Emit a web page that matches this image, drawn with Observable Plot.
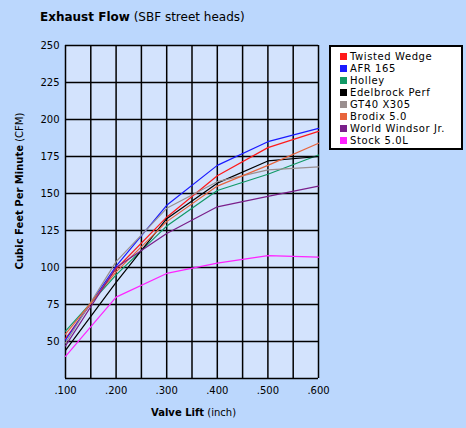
<!DOCTYPE html>
<html>
<head>
<meta charset="utf-8">
<script src="https://cdn.jsdelivr.net/npm/d3@7"></script>
<script src="https://cdn.jsdelivr.net/npm/@observablehq/plot@0.6"></script>
<style>
  html, body { margin: 0; padding: 0; background: #bbd7fd; }
  #wrap { position: relative; width: 466px; height: 428px; background: #bbd7fd; font-family: "DejaVu Sans", Verdana, sans-serif; }
  #legend { position: absolute; z-index: 2; left: 329px; top: 45px; width: 130px; height: 101px; background: #fff; border: 2px solid #000; }
  .item { position: absolute; left: 9px; height: 12px; font-size: 10px; line-height: 12px; white-space: nowrap; color: #000; letter-spacing: 0.6px; }
  .sw { display: inline-block; width: 7px; height: 7px; margin-right: 3px; vertical-align: 0px; }
</style>
</head>
<body>
<div id="wrap"><div id="legend"></div></div>
<script>
const lifts = [0.1, 0.2, 0.3, 0.4, 0.5, 0.6];
const seriesNames = ["Twisted Wedge", "AFR 165", "Holley", "Edelbrock Perf", "GT40 X305", "Brodix 5.0", "World Windsor Jr.", "Stock 5.0L"];
const seriesColors = ["#ff1a1a", "#1a1aff", "#119966", "#000000", "#9a8f8f", "#e8643c", "#7a1f8a", "#ff22ff"];
const twistedWedge = [52, 99, 134, 162, 181, 192];
const afr165 = [51, 101, 142, 169, 185, 194];
const holley = [57, 95, 128, 152, 163, 176];
const edelbrock = [44, 90, 133, 157, 172, 175];
const gt40 = [49, 104, 140, 158, 166, 168];
const brodix = [55, 97, 131, 155, 169, 184];
const worldWindsor = [47, 100, 123, 141, 148, 155];
const stock = [40, 80, 96, 103, 108, 107];
const xGrid = [0.1, 0.15, 0.2, 0.25, 0.3, 0.35, 0.4, 0.45, 0.5, 0.55, 0.6];
const xTicks = [0.1, 0.2, 0.3, 0.4, 0.5, 0.6];
const yGrid = [25, 50, 75, 100, 125, 150, 175, 200, 225, 250];
const yTicks = [50, 75, 100, 125, 150, 175, 200, 225, 250];

const allSeries = [twistedWedge, afr165, holley, edelbrock, gt40, brodix, worldWindsor, stock];
const data = [];
seriesNames.forEach((name, i) => allSeries[i].forEach((v, j) => data.push({series: name, lift: lifts[j], cfm: v})));

const chart = Plot.plot({
  width: 466,
  height: 428,
  marginLeft: 65,
  marginRight: 148,
  marginTop: 45,
  marginBottom: 50,
  style: {background: "#bbd7fd", fontFamily: "DejaVu Sans, Verdana, sans-serif", fontSize: "10px", color: "#000"},
  x: {domain: [0.1, 0.6]},
  y: {domain: [25, 250]},
  color: {domain: seriesNames, range: seriesColors},
  marks: [
    Plot.frame({fill: "#d3e3fd", stroke: "none"}),
    Plot.ruleX(xGrid, {stroke: "#000", strokeWidth: 1.5}),
    Plot.ruleY(yGrid, {stroke: "#000", strokeWidth: 1.5}),
    Plot.line(data, {x: "lift", y: "cfm", z: "series", stroke: "series", strokeWidth: 1.2}),
    Plot.axisX({ticks: xTicks, tickSize: 0, tickPadding: 8, label: null, tickFormat: d => d3.format(".3f")(d).replace(/^0/, "")}),
    Plot.axisY({ticks: yTicks, tickSize: 0, tickPadding: 6, label: null})
  ]
});
chart.style.position = "absolute";
chart.style.left = "0px";
chart.style.top = "0px";
chart.style.zIndex = "1";
document.getElementById("wrap").appendChild(chart);

const svg = d3.select(chart);
const t = svg.append("text").attr("x", 40).attr("y", 21).attr("text-anchor", "start").attr("font-size", 12).attr("fill", "#000");
t.append("tspan").attr("font-weight", "bold").text("Exhaust Flow");
t.append("tspan").text(" (SBF street heads)");

const yl = svg.append("text").attr("transform", "translate(23,191) rotate(-90)").attr("text-anchor", "middle").attr("font-size", 10).attr("fill", "#000");
yl.append("tspan").attr("font-weight", "bold").text("Cubic Feet Per Minute");
yl.append("tspan").text(" (CFM)");

const xl = svg.append("text").attr("x", 151).attr("y", 416).attr("text-anchor", "start").attr("font-size", 10).attr("fill", "#000");
xl.append("tspan").attr("font-weight", "bold").text("Valve Lift");
xl.append("tspan").text(" (inch)");

const legend = document.getElementById("legend");
seriesNames.forEach((name, i) => {
  const it = document.createElement("div");
  it.className = "item";
  it.style.top = (4 + i * 12) + "px";
  const sw = document.createElement("span");
  sw.className = "sw";
  sw.style.background = seriesColors[i];
  it.appendChild(sw);
  it.appendChild(document.createTextNode(name));
  legend.appendChild(it);
});
</script>
</body>
</html>
